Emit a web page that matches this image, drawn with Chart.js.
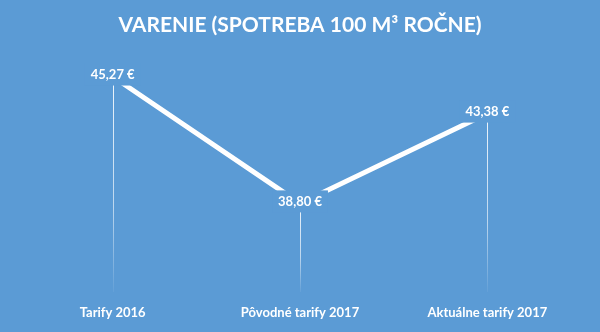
<!DOCTYPE html>
<html>
<head>
<meta charset="utf-8">
<script src="https://cdn.jsdelivr.net/npm/chart.js@4/dist/chart.umd.min.js"></script>
<style>
  html, body { margin: 0; padding: 0; background: #5B9BD5; }
  #wrap { width: 600px; height: 332px; }
</style>
</head>
<body>
<div id="wrap"><canvas id="chart"></canvas></div>
<script>
const categories = ['Tarify 2016', 'Pôvodné tarify 2017', 'Aktuálne tarify 2017'];
const costs = [45.27, 38.80, 43.38];
const yMin = 34.28;
const yMax = 45.95;

const BG = '#5B9BD5';
const FONT = 'Lato, "Open Sans", sans-serif';

const formatEur = (v) => v.toFixed(2).replace('.', ',') + ' €';

// fills the whole canvas with the blue
const background = {
  id: 'background',
  beforeDraw(chart) {
    const ctx = chart.ctx;
    ctx.save();
    ctx.fillStyle = BG;
    ctx.fillRect(0, 0, chart.width, chart.height);
    ctx.restore();
  },
};

// thin fading lines from each point down to the bottom of the plot
const dropLines = {
  id: 'dropLines',
  beforeDatasetsDraw(chart) {
    const ctx = chart.ctx;
    const bottom = chart.chartArea.bottom;
    chart.getDatasetMeta(0).data.forEach((pt) => {
      const x = Math.round(pt.x) + 0.5;
      const grad = ctx.createLinearGradient(0, pt.y, 0, bottom);
      grad.addColorStop(0, 'rgba(255,255,255,0.9)');
      grad.addColorStop(0.6, 'rgba(255,255,255,0.6)');
      grad.addColorStop(1, 'rgba(255,255,255,0.05)');
      ctx.save();
      ctx.strokeStyle = grad;
      ctx.lineWidth = 1;
      ctx.beginPath();
      ctx.moveTo(x, pt.y);
      ctx.lineTo(x, bottom);
      ctx.stroke();
      ctx.restore();
    });
  },
};

// value labels sitting on the points, with a blue box behind them
const valueLabels = {
  id: 'valueLabels',
  afterDatasetsDraw(chart) {
    const ctx = chart.ctx;
    ctx.save();
    ctx.font = 'bold 13px ' + FONT;
    ctx.textAlign = 'center';
    ctx.textBaseline = 'middle';
    chart.getDatasetMeta(0).data.forEach((pt, i) => {
      const txt = formatEur(costs[i]);
      const w = ctx.measureText(txt).width + 12;
      const y = pt.y - 2;
      ctx.fillStyle = BG;
      ctx.fillRect(pt.x - w / 2, y - 11, w, 22);
      ctx.fillStyle = '#ffffff';
      ctx.fillText(txt, pt.x, y);
    });
    ctx.restore();
  },
};

new Chart(document.getElementById('chart'), {
  type: 'line',
  data: {
    labels: categories,
    datasets: [
      {
        label: 'Varenie',
        data: costs,
        borderColor: '#ffffff',
        borderWidth: 5,
        pointRadius: 0,
        tension: 0,
      },
    ],
  },
  options: {
    responsive: true,
    maintainAspectRatio: false,
    animation: false,
    layout: {
      padding: { left: 19, right: 19, top: 0, bottom: 12 },
    },
    plugins: {
      legend: { display: false },
      tooltip: { enabled: false },
      title: {
        display: true,
        text: 'VARENIE (SPOTREBA 100 M³ ROČNE)',
        color: '#ffffff',
        font: { family: FONT, size: 21, weight: 'bold' },
        padding: { top: 13, bottom: 25 },
      },
    },
    scales: {
      x: {
        offset: true,
        grid: { display: false, drawTicks: false },
        border: { display: false },
        ticks: {
          color: '#ffffff',
          padding: 13,
          maxRotation: 0,
          font: { family: FONT, size: 13, weight: 'bold' },
        },
        afterFit(scale) {
          scale.height = 28;
        },
      },
      y: {
        display: false,
        min: yMin,
        max: yMax,
      },
    },
  },
  plugins: [background, dropLines, valueLabels],
});
</script>
</body>
</html>
